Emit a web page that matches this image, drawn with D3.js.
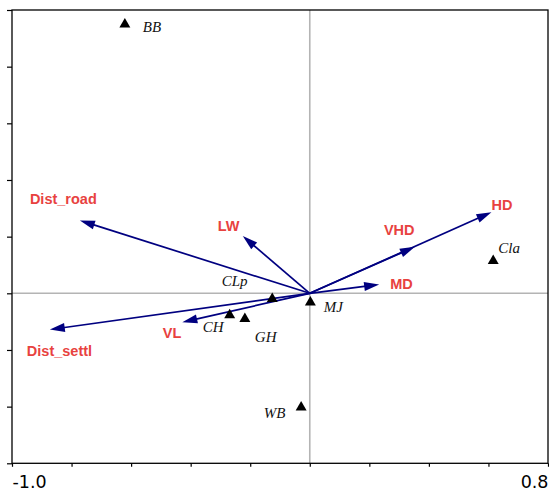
<!DOCTYPE html>
<html lang="en">
<head>
<meta charset="utf-8">
<title>Ordination biplot</title>
<style type="text/css">
  body { margin: 0; background: #fff; }
  .frame { fill: none; stroke: #000; stroke-width: 1.3px; }
  .zero { stroke: #b4b4b4; stroke-width: 1.6px; }
  .axis path { display: none; }
  .axis line { stroke: #000; stroke-width: 1.2px; }
  .axis text { font-family: "DejaVu Sans", sans-serif; font-size: 17.5px; fill: #000; }
  .env { stroke: #000080; stroke-width: 1.7px; fill: none; }
  .envlabel { font-family: "Liberation Sans", Arial, sans-serif; font-weight: bold; font-size: 14.5px; fill: #e8423f; }
  .site { fill: #000; }
  .sitelabel { font-family: "Liberation Serif", "Times New Roman", serif; font-style: italic; font-size: 15px; fill: #111; }
</style>
</head>
<body>
<svg width="549" height="492"></svg>
<script src="https://d3js.org/d3.v7.min.js"></script>
<script>

// environmental variables (arrows): name, axis 1, axis 2
var envNames = ["Dist_road", "LW", "HD", "VHD", "MD", "VL", "Dist_settl"];
var envX = [-0.772, -0.225, 0.610, 0.353, 0.233, -0.428, -0.873];
var envY = [0.257, 0.202, 0.286, 0.164, 0.031, -0.102, -0.128];

// sites (triangles)
var siteNames = ["BB", "Cla", "CLp", "CH", "GH", "MJ", "WB"];
var siteX = [-0.621, 0.616, -0.126, -0.269, -0.218, 0.002, -0.029];
var siteY = [0.954, 0.119, -0.015, -0.073, -0.086, -0.028, -0.398];

// axis ticks
var xTicks = [-1.0, -0.8, -0.6, -0.4, -0.2, 0, 0.2, 0.4, 0.6, 0.8];
var yTicks = [-0.6, -0.4, -0.2, 0, 0.2, 0.4, 0.6, 0.8, 1.0];
var xDomain = [-1.0, 0.8];
var yDomain = [-0.6, 1.0];

// label placement (pixels from the point)
var envLabelOffset = {
  "Dist_road": [-50, -17], "LW": [-25, -5.5], "HD": [0, -2.5], "VHD": [-31, -12],
  "MD": [11, 4], "VL": [-19.5, 15.5], "Dist_settl": [-23, 26]
};
var siteLabelOffset = {
  "BB": [18, 8.5], "Cla": [5, -7], "CLp": [-50.5, -12], "CH": [-27, 18.5],
  "GH": [10, 24], "MJ": [13.5, 10.5], "WB": [-37.5, 11.5]
};

var svg = d3.select("svg");
var pLeft = 12, pTop = 10, pRight = 548, pBottom = 463.3;

var x = d3.scaleLinear().domain(xDomain).range([pLeft, pRight]);
var y = d3.scaleLinear().domain(yDomain).range([pBottom, pTop]);

// zero lines
svg.append("line").attr("class", "zero")
    .attr("x1", pLeft).attr("x2", pRight).attr("y1", y(0)).attr("y2", y(0));
svg.append("line").attr("class", "zero")
    .attr("x1", x(0)).attr("x2", x(0)).attr("y1", pTop).attr("y2", pBottom);

// axes
var xAxis = svg.append("g").attr("class", "axis")
    .attr("transform", "translate(0," + pBottom + ")")
    .call(d3.axisBottom(x).tickValues(xTicks).tickSize(3.5).tickPadding(9)
      .tickFormat(function(d, i) { return (i == 0 || i == xTicks.length - 1) ? d.toFixed(1) : ""; }));
xAxis.selectAll("text")
    .attr("dy", "0.71em")
    .attr("text-anchor", function(d, i) { return i == 0 ? "start" : "end"; });

svg.append("g").attr("class", "axis")
    .attr("transform", "translate(" + pLeft + ",0)")
    .call(d3.axisLeft(y).tickValues(yTicks).tickSize(5).tickFormat(""));

// frame
svg.append("rect").attr("class", "frame")
    .attr("x", pLeft).attr("y", pTop)
    .attr("width", pRight - pLeft).attr("height", pBottom - pTop);

// arrows
var envData = envNames.map(function(n, i) { return { name: n, x: envX[i], y: envY[i] }; });
var headLen = 15, headW = 4.5;

var arrows = svg.append("g");
envData.forEach(function(d) {
  var x0 = x(0), y0 = y(0), x1 = x(d.x), y1 = y(d.y);
  var dx = x1 - x0, dy = y1 - y0, len = Math.sqrt(dx * dx + dy * dy);
  var ux = dx / len, uy = dy / len;
  var bx = x1 - ux * headLen, by = y1 - uy * headLen;
  arrows.append("line").attr("class", "env")
      .attr("x1", x0).attr("y1", y0)
      .attr("x2", x1 - ux * (headLen - 2)).attr("y2", y1 - uy * (headLen - 2));
  arrows.append("path")
      .attr("fill", "#000080")
      .attr("d", "M" + x1 + "," + y1 +
        "L" + (bx - uy * headW) + "," + (by + ux * headW) +
        "L" + (bx + uy * headW) + "," + (by - ux * headW) + "Z");
});

svg.append("g").selectAll("text")
    .data(envData)
  .enter().append("text")
    .attr("class", "envlabel")
    .attr("x", function(d) { return x(d.x) + envLabelOffset[d.name][0]; })
    .attr("y", function(d) { return y(d.y) + envLabelOffset[d.name][1]; })
    .text(function(d) { return d.name; });

// sites
var siteData = siteNames.map(function(n, i) { return { name: n, x: siteX[i], y: siteY[i] }; });
var tri = d3.symbol().type(d3.symbolTriangle).size(52);

svg.append("g").selectAll("path")
    .data(siteData)
  .enter().append("path")
    .attr("class", "site")
    .attr("d", tri)
    .attr("transform", function(d) { return "translate(" + x(d.x) + "," + (y(d.y) + 1.2) + ")"; });

svg.append("g").selectAll("text")
    .data(siteData)
  .enter().append("text")
    .attr("class", "sitelabel")
    .attr("x", function(d) { return x(d.x) + siteLabelOffset[d.name][0]; })
    .attr("y", function(d) { return y(d.y) + siteLabelOffset[d.name][1]; })
    .text(function(d) { return d.name; });

</script>
</body>
</html>
